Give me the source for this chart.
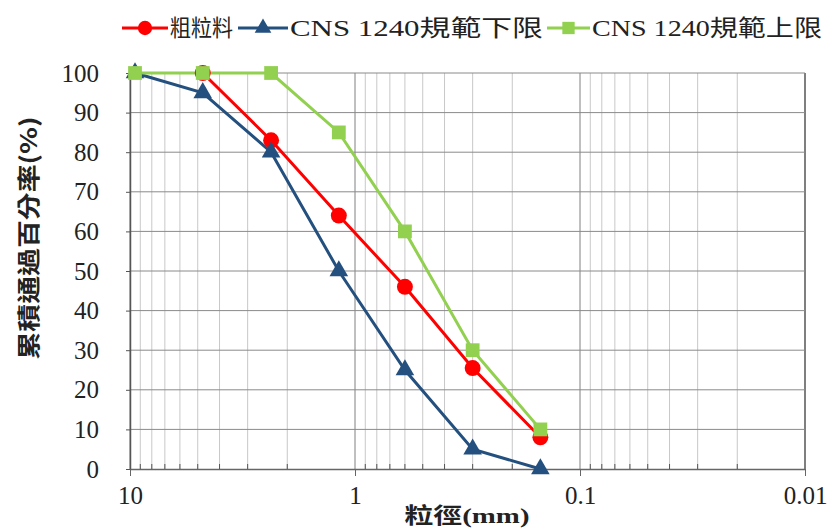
<!DOCTYPE html>
<html>
<head>
<meta charset="utf-8">
<script src="https://cdn.jsdelivr.net/npm/d3@7"></script>
<style>
  body { margin: 0; background: #fff; }
  svg { display: block; }
  .tick text { font-family: 'Liberation Serif', 'Noto Sans CJK TC', serif; font-size: 25px; fill: #222; }
</style>
</head>
<body>
<div class="vis"></div>
<script>
// sieve sizes (mm)
const sizes = [9.5, 4.75, 2.36, 1.18, 0.6, 0.3, 0.15]
// percent passing
const coarse = [null, 100, 83, 64, 46, 25.5, 8]
const lowerLimit = [100, 95, 80, 50, 25, 5, 0]
const upperLimit = [100, 100, 100, 85, 60, 30, 10]
const xTicks = [10, 1, 0.1, 0.01]
const xTickLabels = ['10', '1', '0.1', '0.01']
const yTicks = d3.range(0, 101, 10)

const seriesNames = ['粗粒料', 'CNS 1240規範下限', 'CNS 1240規範上限']
const seriesValues = [coarse, lowerLimit, upperLimit]
const colors = ['#ff0000', '#24507f', '#92d050']
const symbols = [d3.symbolCircle, d3.symbolTriangle, d3.symbolSquare]
const symbolSizes = [200, 150, 190]

const width = 832
const height = 531
const margin = { top: 73, right: 27, bottom: 62, left: 130 }

const svg = d3
  .select('.vis')
  .append('svg')
  .attr('width', width)
  .attr('height', height)

const x = d3
  .scaleLog()
  .domain([10, 0.01])
  .range([margin.left, width - margin.right])

const y = d3
  .scaleLinear()
  .domain([0, 100])
  .range([height - margin.bottom, margin.top])

// minor values inside each decade
const minor = []
;[0.01, 0.1, 1].forEach(d => {
  for (let k = 2; k <= 9; k++) minor.push(+(k * d).toFixed(4))
})

// grid
const grid = svg.append('g').attr('class', 'grid')
grid
  .selectAll('.vminor')
  .data(minor)
  .enter()
  .append('line')
  .attr('x1', d => x(d))
  .attr('x2', d => x(d))
  .attr('y1', y(0))
  .attr('y2', y(100))
  .attr('stroke', '#c8c8c8')
  .attr('stroke-width', 1)

grid
  .selectAll('.vmajor')
  .data(xTicks)
  .enter()
  .append('line')
  .attr('x1', d => x(d))
  .attr('x2', d => x(d))
  .attr('y1', y(0))
  .attr('y2', y(100))
  .attr('stroke', d => (d === 0.01 ? '#555' : '#808080'))
  .attr('stroke-width', d => (d === 0.01 ? 1.5 : 1))

grid
  .selectAll('.h')
  .data(yTicks.slice(1))
  .enter()
  .append('line')
  .attr('x1', x(10))
  .attr('x2', x(0.01))
  .attr('y1', d => y(d))
  .attr('y2', d => y(d))
  .attr('stroke', '#8a8a8a')
  .attr('stroke-width', 1)

// axes
const xAxis = d3
  .axisBottom(x)
  .tickValues(xTicks)
  .tickSize(7)
  .tickSizeOuter(0)
  .tickPadding(10)
  .tickFormat((d, i) => xTickLabels[i])

svg
  .append('g')
  .attr('class', 'x axis')
  .attr('transform', `translate(0,${y(0)})`)
  .call(xAxis)
  .call(g => g.select('.domain').attr('stroke', '#666').attr('stroke-width', 1.5))
  .call(g => g.selectAll('.tick line').attr('stroke', '#666'))

// minor ticks pointing inward
svg
  .append('g')
  .selectAll('line')
  .data(minor)
  .enter()
  .append('line')
  .attr('x1', d => x(d))
  .attr('x2', d => x(d))
  .attr('y1', y(0))
  .attr('y2', y(0) - 5)
  .attr('stroke', '#555')

const yAxis = d3
  .axisLeft(y)
  .tickValues(yTicks)
  .tickSize(4)
  .tickSizeOuter(0)
  .tickPadding(27)

svg
  .append('g')
  .attr('class', 'y axis')
  .attr('transform', `translate(${x(10)},0)`)
  .call(yAxis)
  .call(g => g.select('.domain').attr('stroke', '#555').attr('stroke-width', 1.5))
  .call(g => g.selectAll('.tick line').attr('stroke', '#555'))

// axis titles
svg
  .append('text')
  .attr('transform', `translate(37,238) rotate(-90)`)
  .attr('text-anchor', 'middle')
  .attr('font-family', "'Noto Sans CJK TC', sans-serif")
  .attr('font-weight', 'bold')
  .attr('font-size', 23)
  .attr('fill', '#222')
  .attr('textLength', 243)
  .attr('lengthAdjust', 'spacingAndGlyphs')
  .text('累積通過百分率(%)')

svg
  .append('text')
  .attr('x', 467)
  .attr('y', 523)
  .attr('text-anchor', 'middle')
  .attr('font-family', "'Liberation Serif', 'Noto Sans CJK TC', serif")
  .attr('font-weight', 'bold')
  .attr('font-size', 22)
  .attr('fill', '#222')
  .attr('textLength', 125)
  .attr('lengthAdjust', 'spacingAndGlyphs')
  .text('粒徑(mm)')

// series
const line = d3
  .line()
  .defined(d => d.v != null)
  .x(d => x(d.s))
  .y(d => y(d.v))

seriesValues.forEach((vals, i) => {
  const pts = vals.map((v, j) => ({ s: sizes[j], v }))
  svg
    .append('path')
    .datum(pts)
    .attr('fill', 'none')
    .attr('stroke', colors[i])
    .attr('stroke-width', 3)
    .attr('d', line)
})

seriesValues.forEach((vals, i) => {
  const pts = vals.map((v, j) => ({ s: sizes[j], v })).filter(d => d.v != null)
  svg
    .append('g')
    .selectAll('path')
    .data(pts)
    .enter()
    .append('path')
    .attr('transform', d => `translate(${x(d.s)},${y(d.v)})`)
    .attr('d', d3.symbol().type(symbols[i]).size(symbolSizes[i]))
    .attr('fill', colors[i])
})

// legend
const legendItems = [
  { lx: 122, tx: 170, len: 63 },
  { lx: 238, tx: 290, len: 253 },
  { lx: 547, tx: 592, len: 230 }
]
const legend = svg.append('g').attr('class', 'legend')
legendItems.forEach((it, i) => {
  const g = legend.append('g')
  g.append('line')
    .attr('x1', it.lx)
    .attr('x2', it.tx - 2)
    .attr('y1', 28)
    .attr('y2', 28)
    .attr('stroke', colors[i])
    .attr('stroke-width', 3)
  g.append('path')
    .attr('transform', `translate(${(it.lx + it.tx - 2) / 2},28)`)
    .attr('d', d3.symbol().type(symbols[i]).size(symbolSizes[i] * 0.8))
    .attr('fill', colors[i])
  g.append('text')
    .attr('x', it.tx)
    .attr('y', 36)
    .attr('font-family', "'Liberation Serif', 'Noto Sans CJK TC', serif")
    .attr('font-size', 23)
    .attr('fill', '#222')
    .attr('textLength', it.len)
    .attr('lengthAdjust', 'spacingAndGlyphs')
    .text(seriesNames[i])
})
</script>
</body>
</html>
